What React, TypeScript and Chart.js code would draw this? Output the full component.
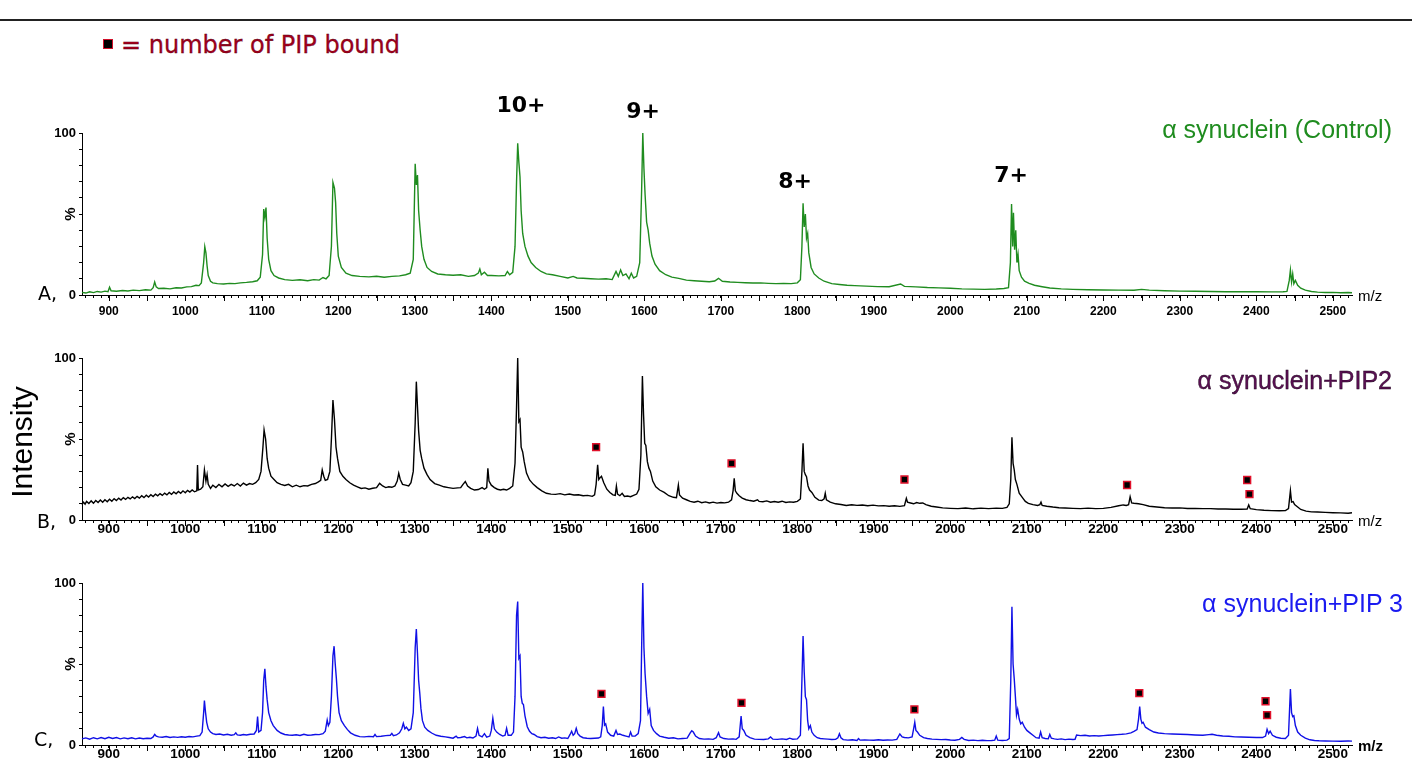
import React, { useEffect, useRef } from "react";
import { Chart, registerables } from "chart.js";

Chart.register(...registerables);

// ---------- axis ----------
const MZ_MIN = 865;
const MZ_MAX = 2525;
const xMajorLabels = [900, 1000, 1100, 1200, 1300, 1400, 1500, 1600, 1700, 1800, 1900, 2000, 2100, 2200, 2300, 2400, 2500];
const xMinorTicks: number[] = [];
for (let v = 870; v <= 2520; v += 10) xMinorTicks.push(v);
const xMidTicks: number[] = [];
for (let v = 900; v <= 2500; v += 50) xMidTicks.push(v);

// ---------- spectrum A: alpha synuclein (Control) ----------
const mzA = [865,870,875,880,885,890,895,899,901,903,910,918,925,932,940,948,955,958,960,962,965,972,980,988,995,1002,1008,1014,1018,1021,1024,1025.5,1027,1028.5,1030,1033,1036,1042,1050,1058,1065,1072,1080,1088,1094,1098,1101,1102.5,1104,1105.5,1107,1109,1112,1116,1122,1130,1140,1150,1160,1168,1175,1180,1184,1188,1191,1193,1195,1196.5,1198,1200,1204,1210,1218,1228,1240,1250,1260,1270,1280,1288,1294,1298,1300.5,1302,1303.5,1305,1307,1309,1312,1316,1322,1330,1340,1350,1360,1370,1378,1383,1385,1387,1391,1395,1400,1410,1418,1421,1424,1428,1431,1433,1434.5,1436,1437.5,1439,1441,1444,1448,1452,1458,1465,1472,1480,1490,1500,1507,1512,1520,1530,1540,1550,1558,1563,1566,1569,1572,1576,1580,1583,1586,1590,1594,1596.5,1598,1599.5,1601,1603,1605,1607,1610,1614,1620,1628,1636,1645,1655,1665,1675,1685,1692,1697,1702,1712,1722,1732,1742,1752,1762,1772,1782,1792,1800,1804,1806,1807.5,1809,1810.5,1812,1813.5,1815,1818,1822,1828,1835,1845,1855,1865,1875,1890,1905,1920,1935,1940,1955,1970,1985,2000,2015,2030,2045,2060,2070,2076,2078.5,2080,2081.5,2082.5,2084,2085.5,2087,2088.5,2090,2093,2097,2103,2110,2120,2130,2145,2160,2180,2200,2220,2240,2250,2260,2280,2300,2320,2340,2360,2380,2400,2420,2435,2440,2443,2444.5,2446,2447.5,2449,2451,2454,2458,2464,2472,2480,2490,2500,2510,2520,2525];
const intA = [1.6,1.2,2.0,1.5,2.2,1.8,2.4,2.0,4.8,2.6,2.3,2.8,2.5,3.0,2.7,3.2,3.0,4.5,8.0,5.0,4.0,4.2,3.8,4.5,4.3,5.0,5.2,6.0,5.8,7.5,20,29.8,26,18,12,8.5,7.5,7.0,6.8,7.2,7.0,7.5,7.8,8.2,8.8,11,25,53,48,54,35,22,15,12,10.5,9.5,9.0,9.4,8.8,9.5,9.2,10.8,10.0,12,30,69.5,66,57,38,24,17,13.5,12,11.5,11.2,11.6,11.0,11.5,11.8,12.5,13.5,22,81,68,74,52,40,30,22,17,14.5,13,12.5,12.2,12.5,11.5,12,13.5,16,12.5,14,12,12,11.8,12,14.5,12.5,14,30,70,93.6,82,73,52,38,30,24,20,17,14.5,13,12.5,11.5,10.5,11.5,10.5,10.3,10.0,9.8,10.0,9.5,14.5,11.5,15.5,12,13,10.0,13.5,10.5,11.5,20,65,100,78,62,45,40,32,24,19,15,12.5,11,10.3,9.2,8.8,8.5,8.2,8.6,10.3,8.5,8.0,7.8,7.6,7.4,7.5,7.2,7.0,7.1,7.0,7.5,9.5,30,56.6,42,50,35,38,26,17,13,10.5,8.5,7.0,6.5,6.0,5.8,5.5,5.2,5.1,6.8,5.3,5.0,4.6,4.4,4.2,3.8,3.6,3.5,3.7,4.0,4.5,20,56.2,30,50.8,28,40,20,25,15,11,8.5,7.2,6.0,5.1,4.3,3.8,3.5,3.2,3.1,3.0,2.9,3.5,3.0,2.6,2.4,2.3,2.2,2.0,2.0,2.0,1.9,2.0,2.2,9,15.4,8,13,7,9,6,4.2,3.0,2.2,1.8,1.5,1.6,1.4,1.5,1.4];

// ---------- spectrum B: alpha synuclein + PIP2 ----------
const mzB = [865,867,869,871,874,877,880,883,886,889,892,895,898,901,904,907,910,913,916,919,922,925,928,931,934,937,940,943,946,949,952,955,958,961,964,967,970,973,976,979,982,985,988,991,994,997,1000,1003,1006,1009,1012,1015,1016,1017,1020,1023,1025,1027,1028.5,1030,1033,1036,1040,1044,1048,1052,1056,1060,1064,1068,1072,1076,1080,1084,1088,1092,1096,1099,1101.5,1103,1105,1107,1109,1112,1116,1120,1125,1130,1135,1140,1145,1150,1155,1160,1165,1170,1174,1177,1179,1181,1183,1186,1189,1191,1193,1195,1197,1199,1202,1206,1210,1215,1220,1225,1230,1235,1240,1245,1250,1254,1258,1262,1266,1270,1274,1277,1279,1281,1284,1288,1292,1295,1298,1300.5,1302,1303.5,1305,1307,1309,1312,1316,1320,1326,1332,1338,1344,1350,1356,1360,1363,1366,1369,1373,1378,1383,1388,1391,1394,1395.5,1397,1400,1404,1408,1412,1416,1420,1424,1428,1431,1433,1434.5,1436,1437.5,1439,1441,1443,1446,1450,1455,1460,1466,1472,1478,1484,1490,1496,1502,1508,1514,1520,1526,1532,1535,1537,1539,1540.5,1542,1544,1547,1551,1555,1559,1562,1563.5,1565,1568,1571,1574,1578,1582,1586,1590,1593,1595.5,1597.5,1599,1600.5,1602,1604,1606,1608,1611,1615,1620,1626,1632,1638,1642,1644.5,1646,1650,1655,1660,1665,1670,1675,1680,1685,1690,1695,1700,1705,1710,1714,1716,1717.5,1719,1721,1724,1728,1733,1738,1743,1748,1750,1755,1760,1765,1770,1775,1780,1785,1790,1795,1800,1804,1806,1807.5,1809,1810.5,1812,1814,1816,1819,1823,1828,1832,1835,1836.5,1838,1843,1850,1857,1864,1871,1878,1885,1892,1899,1906,1913,1920,1927,1934,1940,1942.5,1944,1948,1952,1956,1960,1964,1968,1975,1982,1990,2000,2010,2020,2030,2040,2050,2060,2068,2074,2077,2079,2080.5,2082,2083.5,2085,2087,2090,2094,2098,2102,2108,2114,2117,2118.5,2120,2126,2134,2142,2150,2160,2170,2180,2190,2200,2210,2220,2226,2230,2233,2235,2237,2240,2246,2252,2260,2270,2280,2290,2300,2310,2320,2330,2340,2350,2360,2370,2380,2388,2390,2392,2400,2410,2420,2430,2438,2442,2444.5,2446,2448,2450,2454,2458,2465,2472,2480,2490,2500,2510,2520,2525];
const intB = [9.5,11.0,9.8,11.5,10.2,11.8,10.4,12.0,10.8,12.3,11.0,12.5,11.3,12.8,11.6,13.2,12.0,13.5,12.3,13.8,12.7,14.0,13.0,14.3,13.2,14.6,13.5,15.0,13.8,15.3,14.2,15.6,14.5,16.0,14.9,16.3,15.2,16.6,15.5,17.0,15.8,17.3,16.2,17.6,16.5,18.0,16.8,18.3,17.2,18.5,17.4,18.0,34,18.5,19.0,20.5,30.9,24,28,22,19.5,21.5,20,22,20.5,22.3,20.8,22,21,22.5,21,22.8,21.5,22.5,22,23,25,30,45,55.6,50,38,32,27,25,23,22,21.3,22,20.5,21.5,20.5,21.2,21.0,22,22.5,23.5,24.5,30.9,27,24.5,25,30,50,74,62,45,38,30,27,25,23,21.5,20.5,19.5,19.8,19.0,19.6,20,22.6,21,20,20.5,20.2,21,24,28.8,25,22,21.5,21,23,30,60,85.4,70,55,43,38,32,28,25,22.5,21.5,20.5,20,19.5,19.8,20,22,23.8,21,19.5,18.5,18.8,20,19,20,31.9,24,21.5,20,19,18.5,19,18.5,19.5,21,35,70,100,60.7,62,45,42,36,29,24.7,22,20,18,16.5,16,15.8,16.3,15.5,16.0,15.4,15.6,15.0,15.2,14.6,15.5,22,34,25,26,27,23,19,17,15.5,15.2,21,16,15,16.5,14.5,14.8,14.4,15.2,16,19,40,88.9,65,47.3,46,36,32,30,24,20.5,18.5,17,15,14,13.8,21.6,15.5,13.5,12.5,11.5,11.0,11.6,10.7,11.2,10.5,11.0,10.4,10.8,10.6,11.0,12.5,18,25.7,18,16.5,15,13.5,12.5,12,11.6,12.5,11.5,11.3,11.8,11.0,11.4,11.0,11.6,10.8,11.2,11.0,11.5,13,30,47.3,30,28,26.7,21,18.5,17,14,12.3,12,13,16.5,12.5,11,10,9.6,9.0,9.4,9.0,9.3,8.8,9.2,8.7,8.9,8.5,8.8,8.4,8.8,13.4,11,10.5,10,10.8,10.3,10.5,9.5,8.5,8.0,7.5,7.2,7.0,7.4,6.9,7.3,7.0,7.3,7.2,7.8,10,25,51,35,30.9,25,22,16.5,14,11.5,10.3,9.5,9.0,9.5,11,9,8.5,8.0,7.6,7.4,7.2,7.0,7.3,7.0,7.2,7.8,8.8,9.3,9.0,9.5,14.4,10.5,10.3,10.0,9.5,8.5,8.0,7.6,7.4,7.5,7.1,7.2,7.0,7.0,6.8,6.8,6.6,6.6,6.8,9.3,7,6.4,6.0,5.8,5.7,5.8,7,18.1,11,11.3,9.5,8,6.5,5.5,5.0,4.9,4.7,4.5,4.4,4.2,4.5];

// ---------- spectrum C: alpha synuclein + PIP3 ----------
const mzC = [865,870,875,880,885,890,895,900,905,910,915,920,925,930,935,940,945,950,955,958,960,962,965,970,975,980,985,990,995,1000,1005,1010,1015,1019,1022,1024,1025,1026.5,1028,1030,1033,1036,1040,1045,1050,1055,1060,1064,1066,1068,1072,1076,1080,1085,1090,1093,1094.5,1096,1099,1101,1102.5,1104,1105.5,1107,1109,1112,1115,1120,1125,1130,1135,1140,1145,1150,1155,1160,1165,1170,1175,1180,1183,1185.5,1187,1189,1191,1193,1194.5,1196,1197.5,1199,1201,1204,1208,1212,1216,1222,1228,1234,1240,1246,1248,1250,1256,1262,1268,1270,1272,1276,1280,1283,1285,1287,1289,1292,1295,1298,1300.5,1302,1303.5,1305,1306.5,1308,1310,1313,1317,1322,1328,1334,1340,1345,1350,1354,1356,1360,1365,1368,1372,1376,1380,1382,1384,1388,1391,1394,1398,1400,1402,1404,1407,1411,1415,1418,1420,1422,1426,1429,1431,1433,1434.5,1436,1437.5,1439,1440.5,1442,1444,1447,1450,1453,1456,1460,1465,1470,1475,1480,1484,1488,1492,1496,1500,1503,1505,1507,1509,1511,1513,1516,1520,1525,1530,1535,1540,1543,1545,1546.5,1548,1549.5,1552,1556,1560,1563,1565,1568,1572,1576,1580,1582,1584,1588,1592,1595,1596.5,1598,1599.5,1601,1603,1605,1607,1609,1612,1616,1620,1626,1632,1638,1644,1650,1656,1660,1662,1664,1667,1672,1678,1684,1690,1694,1697,1699,1704,1710,1716,1720,1724,1726.5,1728,1730,1733,1738,1744,1750,1756,1762,1765,1768,1774,1780,1786,1790,1794,1800,1804,1806,1807.5,1809,1810.5,1812,1813.5,1815,1817,1819,1822,1826,1830,1835,1840,1845,1850,1853,1855,1857,1860,1866,1872,1878,1880,1882,1888,1894,1900,1906,1912,1918,1924,1930,1934,1937,1940,1945,1950,1952,1953.5,1955,1957,1960,1965,1970,1976,1982,1988,1994,2000,2006,2012,2015,2018,2024,2030,2036,2042,2048,2054,2058,2060,2062,2068,2074,2077,2079,2080.5,2082,2083.5,2085,2086.5,2088,2090,2092,2094,2097,2100,2104,2108,2112,2116,2118,2120,2124,2128,2130,2132,2136,2140,2145,2150,2155,2160,2163,2165,2170,2176,2182,2188,2194,2200,2206,2212,2218,2224,2230,2236,2240,2244,2246,2247.5,2249,2250.5,2252,2255,2260,2266,2272,2280,2290,2300,2310,2320,2330,2338,2342,2348,2356,2364,2372,2380,2390,2400,2408,2412,2414,2416,2418,2421,2426,2432,2438,2442,2444.5,2446,2447.5,2449,2451,2454,2458,2464,2470,2476,2482,2490,2500,2510,2520,2525];
const intC = [3.8,4.4,3.6,4.5,3.8,4.6,3.9,4.8,4.0,4.6,3.8,4.4,3.9,4.5,3.8,4.3,3.9,4.2,4.0,5.0,6.5,5.5,5.0,4.8,5.2,4.6,5.0,4.7,5.1,4.8,5.2,5.0,5.5,5.8,8,20,27.4,20,14,10,8,7,6.5,6.8,6.2,6.6,6.0,6.4,7.5,6.2,6.0,6.5,6.2,6.6,6.8,9,17.5,8,9,20,40,47.1,36,28,20,15,12,9,7.4,6.5,6.2,6.0,6.3,5.9,6.6,6.0,6.2,6.5,6.4,7.0,8.5,15.4,12,14,30,55,61,50,41,30,20,15,12,9.5,7.5,6.0,5.2,5.0,5.3,5.1,6.5,5.2,5.4,5.8,6.0,7.2,5.8,6.2,7.5,10,13.4,10,11,9,10,20,60,71.6,56.6,40,32,22.6,15,11,9,7.4,6.0,5.4,5.0,4.6,4.2,5.5,4.5,4.6,5.2,4.4,4.8,4.3,5.5,10.3,6,5,7,4.8,5.5,9,16.5,10,8,6.5,5.5,6,10.3,6,6,8,30,80,88.5,53.5,55,30,25.7,25,18,11.3,8.5,7,6.5,5.2,4.5,4.8,4.2,4.5,4.0,5.0,4.2,4.4,4.0,6.5,8.5,6,7,10.3,7,5.5,4.5,4.2,4.0,4.2,4.3,5,12,23.7,12.3,13,8,6,5.5,9,6.5,6.8,6,5.5,5.0,8,5.5,5.5,7,15,60,100,60,44,30,19.5,22,12,9,7,5.5,4.8,4.2,4.5,3.8,4.0,4.2,7.5,8.8,8,5.5,4.0,3.6,3.8,3.5,4.5,7.6,5,4.0,3.6,3.8,3.5,5,17.9,10,9,6,4.5,3.6,3.5,3.4,3.8,5,3.6,3.5,3.8,3.4,4.2,3.6,3.8,6,40,67.3,45,29.8,28,15,10,12,8,6,4.5,4.0,3.8,3.6,3.4,3.5,4.5,7,4.5,3.3,3.0,3.2,2.8,4,3,3.1,3.0,2.9,3.2,2.9,3.1,3.0,3.5,6.8,5,4.6,4.4,5,10,14,9,8,6,4.5,4.0,3.6,3.5,3.3,3.4,3.1,2.9,3.5,4.7,3.5,2.8,3.0,2.7,2.9,2.7,2.8,3,5.6,3,2.8,3.0,4,40,85.4,50,41,30,18.5,22,16,13,14,11,9,7.5,6,4.5,4.2,8,4.5,4,3.8,6.5,4.2,3.8,3.5,3.8,3.3,3.6,3.4,3.5,6.2,5.8,6.0,5.6,5.8,5.6,5.8,6.0,6.2,6.4,6.6,6.9,7.5,8.4,9.5,16,23.7,16,13.4,14,11,9.5,8,7.4,7.0,6.8,6.6,6.5,6.2,6.0,6.4,6.6,6.0,5.6,5.4,5.0,4.9,4.8,4.6,4.6,5.5,9.7,7,8.5,6,4.8,4.2,4.0,6,34.6,20,17.5,18,12,8,6,4.2,3.2,2.8,2.6,2.5,2.4,2.3,2.5,2.4];

// ---------- PIP-bound markers ----------
const pipMzB = [1537, 1714, 1940, 2231, 2388, 2391];
const pipIntB = [45, 35, 25, 21.6, 24.7, 16];
const pipMzC = [1544, 1727, 1953, 2247, 2412, 2414];
const pipIntC = [31.5, 26, 22, 32, 27, 18.5];

// ---------- labels ----------
const chargeLabels = ["10+", "9+", "8+", "7+"];
const chargeLeft = [521, 643, 795, 1011];
const chargeTop = [94, 100, 170, 164];

const TICK_FONT = '"Liberation Sans", Arial, sans-serif';
const VERDANA = '"DejaVu Sans", Verdana, sans-serif';

type PanelProps = {
  top: number;
  height: number;
  padTop: number;
  mz: number[];
  inten: number[];
  color: string;
  pipMz?: number[];
  pipInt?: number[];
  mzBold?: boolean;
  tickSize: number;
  tickPad: number;
};

function Panel({ top, height, padTop, mz, inten, color, pipMz, pipInt, mzBold, tickSize, tickPad }: PanelProps) {
  const ref = useRef<HTMLCanvasElement>(null);
  useEffect(() => {
    const canvas = ref.current;
    if (!canvas) return;
    const line = mz.map((x, i) => ({ x, y: inten[i] }));
    const marks = pipMz && pipInt ? pipMz.map((x, i) => ({ x, y: pipInt[i] })) : [];
    const deco = {
      id: "deco",
      afterDraw(chart: any) {
        const c = chart.ctx as CanvasRenderingContext2D;
        const xs = chart.scales.x;
        const ys = chart.scales.y;
        const ca = chart.chartArea;
        c.save();
        c.strokeStyle = "#000";
        c.lineWidth = 1;
        for (const v of xMidTicks) {
          const px = Math.round(xs.getPixelForValue(v)) + 0.5;
          c.beginPath();
          c.moveTo(px, ca.bottom);
          c.lineTo(px, ca.bottom + 6);
          c.stroke();
        }
        c.fillStyle = "#000";
        c.font = `bold 15px ${TICK_FONT}`;
        c.textAlign = "center";
        c.textBaseline = "middle";
        c.save();
        c.translate(ca.left - 11, ys.getPixelForValue(50));
        c.rotate(-Math.PI / 2);
        c.fillText("%", 0, 0);
        c.restore();
        c.font = `${mzBold ? "bold " : ""}15px ${TICK_FONT}`;
        c.textAlign = "left";
        c.fillText("m/z", ca.right + 6, ca.bottom + 2);
        c.restore();
      },
    };
    const chart = new Chart(canvas, {
      type: "line",
      data: {
        datasets: [
          {
            data: marks,
            showLine: false,
            pointStyle: "rect",
            pointRadius: 4.8,
            pointBackgroundColor: "#000",
            pointBorderColor: "#e0102a",
            pointBorderWidth: 1.5,
            order: 0,
          } as any,
          {
            data: line,
            borderColor: color,
            borderWidth: 1.4,
            pointRadius: 0,
            tension: 0,
            clip: 4,
            order: 1,
          } as any,
        ],
      },
      options: {
        responsive: false,
        animation: false,
        events: [],
        layout: { padding: { left: 0, right: 60, top: padTop, bottom: 0 } },
        plugins: { legend: { display: false }, tooltip: { enabled: false } },
        scales: {
          x: {
            type: "linear",
            min: MZ_MIN,
            max: MZ_MAX,
            afterBuildTicks: (s: any) => {
              s.ticks = xMinorTicks.map((v) => ({ value: v }));
            },
            afterFit: (s: any) => {
              s.height = 30;
            },
            ticks: {
              autoSkip: false,
              maxRotation: 0,
              minRotation: 0,
              padding: tickPad,
              color: "#000",
              font: { family: TICK_FONT, weight: "bold", size: tickSize, lineHeight: 1 },
              callback: (v: any) => (xMajorLabels.includes(Number(v)) ? String(v) : ""),
            },
            grid: { drawOnChartArea: false, drawTicks: true, tickLength: 3, color: "#000", lineWidth: 1 },
            border: { display: true, color: "#000", width: 1 },
          },
          y: {
            min: 0,
            max: 100,
            afterFit: (s: any) => {
              s.width = 82;
            },
            ticks: {
              stepSize: 10,
              autoSkip: false,
              padding: 3,
              color: "#000",
              font: { family: TICK_FONT, weight: "bold", size: 13 },
              callback: (v: any) => (v === 0 ? "0" : v === 100 ? "100" : ""),
            },
            grid: { drawOnChartArea: false, drawTicks: true, tickLength: 3, color: "#000", lineWidth: 1 },
            border: { display: true, color: "#000", width: 1 },
          },
        },
      } as any,
      plugins: [deco],
    });
    return () => chart.destroy();
  }, []);
  return (
    <canvas
      ref={ref}
      width={1412}
      height={height}
      style={{ position: "absolute", left: 0, top, width: 1412, height }}
    />
  );
}

const abs = (extra: React.CSSProperties): React.CSSProperties => ({
  position: "absolute",
  whiteSpace: "nowrap",
  lineHeight: 1,
  margin: 0,
  ...extra,
});

export default function App() {
  return (
    <div style={{ position: "absolute", left: 0, top: 0, width: 1412, height: 777, background: "#fff", overflow: "hidden" }}>
      <div style={{ position: "absolute", left: 0, top: 19, width: 1412, height: 2, background: "#222" }} />
      <div
        style={{
          position: "absolute",
          left: 103,
          top: 39,
          width: 10,
          height: 10,
          boxSizing: "border-box",
          background: "#000",
          border: "1.5px solid #d0102a",
        }}
      />
      <div
        style={abs({
          left: 121,
          top: 33,
          fontFamily: VERDANA,
          fontSize: 24,
          color: "#a0001c",
          WebkitTextStroke: "0.3px #5a0010",
        } as any)}
      >
        = number of PIP bound
      </div>

      <Panel top={60} height={265} padTop={73} mz={mzA} inten={intA} color="#1f8c1f" tickSize={12} tickPad={8} />
      <Panel top={330} height={220} padTop={28} mz={mzB} inten={intB} color="#000000" pipMz={pipMzB} pipInt={pipIntB} tickSize={13.5} tickPad={0} />
      <Panel top={555} height={220} padTop={28} mz={mzC} inten={intC} color="#1010e6" pipMz={pipMzC} pipInt={pipIntC} mzBold tickSize={13.5} tickPad={0} />

      {chargeLabels.map((t, i) => (
        <div
          key={t}
          style={abs({
            left: chargeLeft[i],
            top: chargeTop[i],
            transform: "translateX(-50%)",
            fontFamily: VERDANA,
            fontWeight: "bold",
            fontSize: 22,
            color: "#000",
          })}
        >
          {t}
        </div>
      ))}

      <div style={abs({ right: 20, top: 117, fontFamily: TICK_FONT, fontSize: 25, color: "#1f8c1f" })}>α synuclein (Control)</div>
      <div
        style={abs({
          right: 20,
          top: 368,
          fontFamily: TICK_FONT,
          fontSize: 25,
          color: "#5a0f52",
          WebkitTextStroke: "0.4px #1a001a",
        } as any)}
      >
        α synuclein+PIP2
      </div>
      <div style={abs({ right: 9, top: 591, fontFamily: TICK_FONT, fontSize: 25, color: "#1a1af0" })}>α synuclein+PIP 3</div>

      <div style={abs({ left: 38, top: 284, fontFamily: VERDANA, fontSize: 19, color: "#000" })}>A,</div>
      <div style={abs({ left: 37, top: 512, fontFamily: VERDANA, fontSize: 19, color: "#000" })}>B,</div>
      <div style={abs({ left: 34, top: 730, fontFamily: VERDANA, fontSize: 19, color: "#000" })}>C,</div>

      <div
        style={abs({
          left: 22,
          top: 442,
          transform: "translate(-50%, -50%) rotate(-90deg)",
          fontFamily: TICK_FONT,
          fontSize: 30,
          color: "#000",
        })}
      >
        Intensity
      </div>
    </div>
  );
}
